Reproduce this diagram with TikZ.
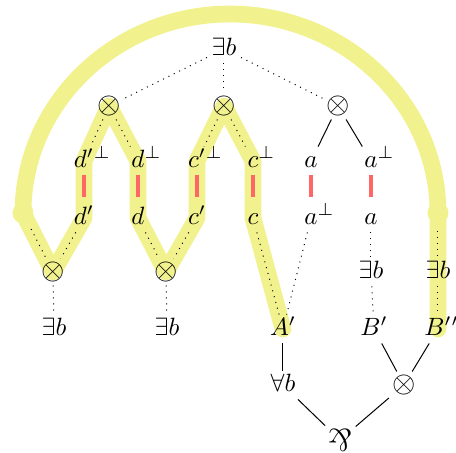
\documentclass[tikz,border=0pt]{standalone}
\usepackage{amsmath, amssymb}
\usepackage{graphicx}
\usepackage{tikz}
\usetikzlibrary{backgrounds}
\definecolor{hlyellow}{RGB}{241,241,141}
\definecolor{axred}{RGB}{255,102,102}
\newcommand{\tensop}{\scalebox{1.2}{$\otimes$}}
\newcommand{\parrop}{\scalebox{1.25}{\rotatebox[origin=c]{180}{$\&$}}}
\newcommand{\sbot}{\rlap{$^{\bot}$}}

\begin{document}
\begin{tikzpicture}[
  x=0.4pt, y=-0.4pt,
  lbl/.style={inner sep=1.7pt, text height=1.55ex, text depth=.25ex, anchor=base},
  op/.style={inner sep=1.2pt},
  hid/.style={circle, inner sep=0pt, minimum size=14pt},
  axl/.style={draw=axred, line width=1.6pt, shorten >=2.8pt},
  hilite/.style={draw=hlyellow, line width=6.7pt, line cap=round, line join=round}
]
  \useasboundingbox (0,0) rectangle (456,453);

  % ── Top: exists and tensors ──
  \node[lbl] (ex) at (224,56) {$\exists b$};
  \node[op] (t1) at (109,106) {\tensop};
  \node[op] (t2) at (224,106) {\tensop};
  \node[op] (t3) at (338,106) {\tensop};

  % ── Axiom rows ──
  \node[lbl] (dpb) at (84,168) {$d'\sbot$};
  \node[lbl] (db) at (138,168) {$d\sbot$};
  \node[lbl] (cpb) at (197,168) {$c'\sbot$};
  \node[lbl] (cb) at (253,168) {$c\sbot$};
  \node[lbl] (ta) at (311,168) {$a$};
  \node[lbl] (tab) at (371,168) {$a\sbot$};

  \node[lbl] (dp) at (84,225) {$d'$};
  \node[lbl] (d) at (138,225) {$d$};
  \node[lbl] (cp) at (197,225) {$c'$};
  \node[lbl] (c) at (253,225) {$c$};
  \node[lbl] (aab) at (311,225) {$a\sbot$};
  \node[lbl] (aa) at (371,225) {$a$};

  \node[hid] (hl) at (23,213) {};
  \node[hid] (hr) at (438,213) {};

  % ── Bottom part ──
  \node[op] (b1) at (53,272) {\tensop};
  \node[op] (b2) at (166,272) {\tensop};
  \node[lbl] (e1) at (54,336) {$\exists b$};
  \node[lbl] (e2) at (167,336) {$\exists b$};
  \node[lbl] (e3) at (371,279) {$\exists b$};
  \node[lbl] (e4) at (438,279) {$\exists b$};

  \node[lbl] (Ap) at (283,336) {$A'$};
  \node[lbl] (Bp) at (374,336) {$B'$};
  \node[lbl] (Bpp) at (438,336) {$B'\rlap{$'$}$};

  \node[lbl] (fa) at (283,392) {$\forall b$};
  \node[op] (t4) at (404,385) {\tensop};
  \node[op] (par) at (340,440) {\parrop};

  % ── Highlighted path ──
  \begin{scope}[on background layer]
    \draw[hilite] (Ap.center) -- (c.center) -- (cb.center) -- (t2.center)
      -- (cpb.center) -- (cp.center) -- (b2.center) -- (d.center)
      -- (db.center) -- (t1.center) -- (dpb.center) -- (dp.center)
      -- (b1.center) -- (hl.center)
      .. controls (23,103) and (116,14) .. (230,14)
      .. controls (344,14) and (438,103) .. (hr.center)
      -- (e4.center) -- (Bpp.center);
    \fill[hlyellow] (hl) circle[radius=4.2pt] (hr) circle[radius=4.2pt];
  \end{scope}

  % ── Links ──
  \draw[dotted] (ex) -- (t1);
  \draw[dotted] (ex) -- (t2);
  \draw[dotted] (ex) -- (t3);
  \draw[dotted] (t1) -- (dpb);
  \draw[dotted] (t1) -- (db);
  \draw[dotted] (t2) -- (cpb);
  \draw[dotted] (t2) -- (cb);
  \draw (t3) -- (ta);
  \draw (t3) -- (tab);

  \draw[axl] (dpb.south) -- (dp.north);
  \draw[axl] (db.south) -- (d.north);
  \draw[axl] (cpb.south) -- (cp.north);
  \draw[axl] (cb.south) -- (c.north);
  \draw[axl] (ta.south) -- (aab.north);
  \draw[axl] (tab.south) -- (aa.north);

  \draw[dotted] (hl) -- (b1);
  \draw[dotted] (dp) -- (b1);
  \draw[dotted] (d) -- (b2);
  \draw[dotted] (cp) -- (b2);
  \draw[dotted] (b1) -- (e1);
  \draw[dotted] (b2) -- (e2);
  \draw[dotted] (c) -- (Ap);
  \draw[dotted] (aab) -- (Ap);
  \draw[dotted] (aa) -- (e3);
  \draw[dotted] (e3) -- (Bp);
  \draw[dotted] (hr) -- (e4);
  \draw[dotted] (e4) -- (Bpp);

  \draw (Ap) -- (fa);
  \draw (Bp) -- (t4);
  \draw (Bpp) -- (t4);
  \draw (fa) -- (par);
  \draw (t4) -- (par);
\end{tikzpicture}
\end{document}
